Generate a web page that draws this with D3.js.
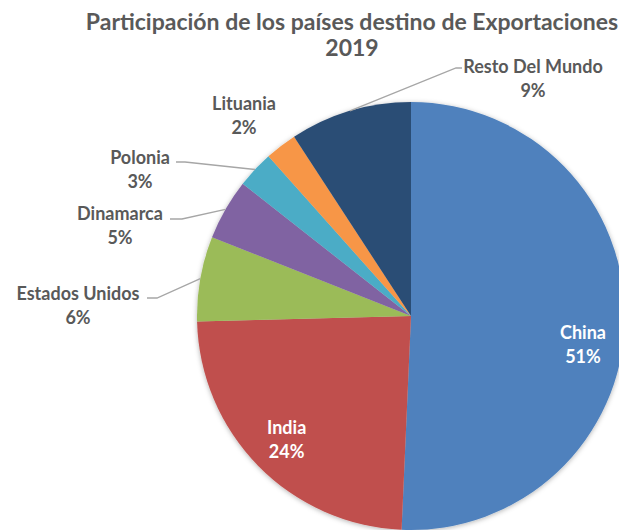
<!DOCTYPE html>
<html>
<head>
<meta charset="utf-8">
<script src="https://cdn.jsdelivr.net/npm/d3@7/dist/d3.min.js"></script>
<style>
  body { margin: 0; background: #fff; }
  text { font-family: Lato, "Open Sans", sans-serif; font-weight: bold; }
</style>
</head>
<body>
<svg width="619" height="530"></svg>
<script>
var svg = d3.select("svg"),
    width = +svg.attr("width"),
    height = +svg.attr("height");

// data (percent of exports), clockwise from 12 o'clock
var countries = ["China", "India", "Estados Unidos", "Dinamarca", "Polonia", "Lituania", "Resto Del Mundo"];
var shares = [50.7, 23.9, 6.4, 4.6, 2.8, 2.4, 9.2];
var colors = ["#4F81BD", "#C0504D", "#9BBB59", "#8064A2", "#4BACC6", "#F79646", "#2C4D75"];

var data = countries.map(function(c, i) { return {name: c, value: shares[i], color: colors[i]}; });

// label placement: inside labels are offset from the centroid, outside ones sit at a fixed spot
var labelLayout = {
    "China":           {inside: true, dx: 65, dy: 15},
    "India":           {inside: true, dx: -48, dy: 37},
    "Estados Unidos":  {x: 78,  y: 294, lineFrom: [147, 298], elbow: [157, 298]},
    "Dinamarca":       {x: 120, y: 214, lineFrom: [170, 219], elbow: [182, 219]},
    "Polonia":         {x: 140, y: 158, lineFrom: [176, 162], elbow: [185, 162]},
    "Lituania":        {x: 244, y: 104},
    "Resto Del Mundo": {x: 533, y: 67,  lineFrom: [462, 68], elbow: [456, 68]}
};

var cx = 411, cy = 316, r = 214;

// title
svg.append("text")
    .attr("x", 352).attr("y", 30)
    .attr("text-anchor", "middle")
    .attr("font-size", "23px")
    .attr("fill", "#595959")
    .text("Participación de los países destino de Exportaciones");
svg.append("text")
    .attr("x", 352).attr("y", 56)
    .attr("text-anchor", "middle")
    .attr("font-size", "23px")
    .attr("fill", "#595959")
    .text("2019");

var defs = svg.append("defs");
var filter = defs.append("filter").attr("id", "shadow")
    .attr("x", "-10%").attr("y", "-10%").attr("width", "120%").attr("height", "120%");
filter.append("feDropShadow")
    .attr("dx", 0).attr("dy", 1)
    .attr("stdDeviation", 2.5)
    .attr("flood-color", "#000")
    .attr("flood-opacity", 0.3);

var pie = d3.pie().sort(null).value(function(d) { return d.value; });
var arc = d3.arc().innerRadius(0).outerRadius(r);
var edge = d3.arc().innerRadius(r).outerRadius(r);

var g = svg.append("g").attr("transform", "translate(" + cx + "," + cy + ")");
var arcs = pie(data);

g.append("g").attr("filter", "url(#shadow)")
  .selectAll("path")
    .data(arcs)
    .enter().append("path")
    .attr("d", arc)
    .attr("fill", function(d) { return d.data.color; });

// leader lines
arcs.forEach(function(d) {
    var L = labelLayout[d.data.name];
    if (!L.lineFrom) return;
    var p = edge.centroid(d);
    svg.append("polyline")
        .attr("points", [L.lineFrom, L.elbow, [p[0] + cx, p[1] + cy]].map(function(q) { return q.join(","); }).join(" "))
        .attr("fill", "none")
        .attr("stroke", "#A6A6A6")
        .attr("stroke-width", 1.3);
});

// labels
arcs.forEach(function(d) {
    var L = labelLayout[d.data.name];
    var x, y, fill;
    if (L.inside) {
        var c = arc.centroid(d);
        x = c[0] + cx + L.dx; y = c[1] + cy + L.dy;
        fill = "#fff";
    } else {
        x = L.x; y = L.y; fill = "#595959";
    }
    var t = svg.append("text")
        .attr("text-anchor", "middle")
        .attr("font-size", "18px")
        .attr("fill", fill);
    t.append("tspan").attr("x", x).attr("y", y + 6).text(d.data.name);
    t.append("tspan").attr("x", x).attr("y", y + 30).text(Math.round(d.data.value) + "%");
});
</script>
</body>
</html>
